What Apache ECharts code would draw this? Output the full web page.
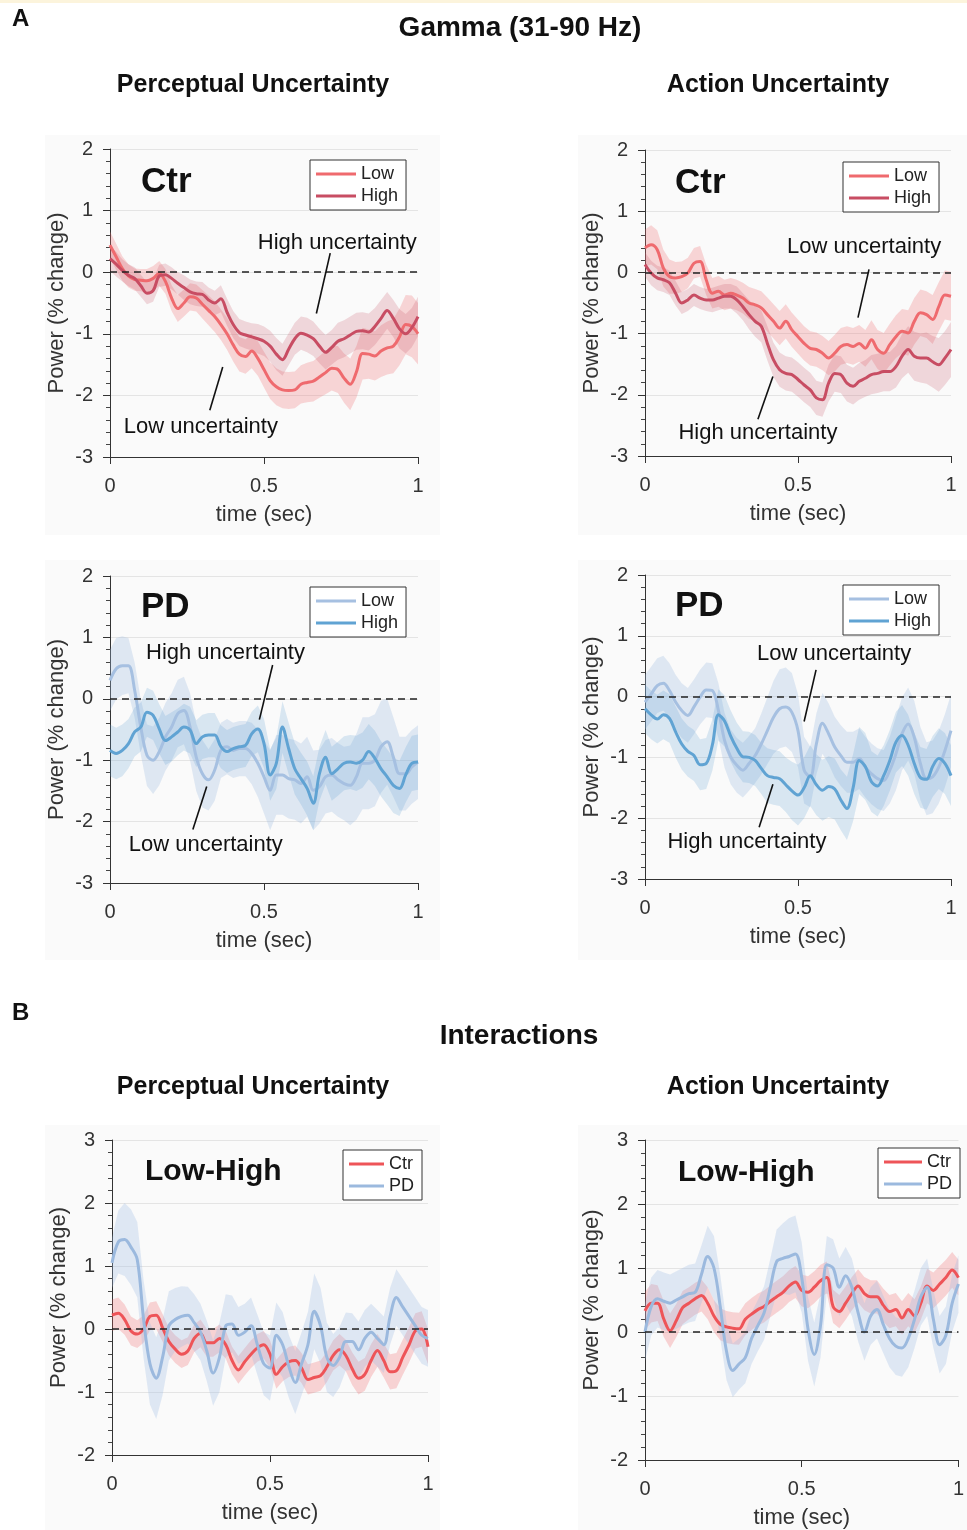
<!DOCTYPE html>
<html><head><meta charset="utf-8">
<script src="https://cdn.jsdelivr.net/npm/echarts@6/dist/echarts.min.js"></script>
<style>html,body{margin:0;padding:0;background:#fff}#c{width:967px;height:1530px}</style>
</head><body><div id="c"></div>
<script>
// ---- time axis (sec) ----
const time = [0,0.02,0.04,0.06,0.08,0.1,0.12,0.14,0.16,0.18,0.2,0.22,0.24,0.26,0.28,0.3,0.32,0.34,0.36,0.38,0.4,0.42,0.44,0.46,0.48,0.5,0.52,0.54,0.56,0.58,0.6,0.62,0.64,0.66,0.68,0.7,0.72,0.74,0.76,0.78,0.8,0.82,0.84,0.86,0.88,0.9,0.92,0.94,0.96,0.98,1];

// ---- A: Ctr, Perceptual uncertainty ----
const ctrPercLow = [0.44,0.25,0.06,-0.06,-0.12,-0.13,-0.14,-0.10,-0.02,-0.15,-0.42,-0.59,-0.50,-0.40,-0.42,-0.52,-0.62,-0.72,-0.85,-1.00,-1.18,-1.33,-1.37,-1.28,-1.40,-1.58,-1.76,-1.86,-1.91,-1.92,-1.91,-1.82,-1.79,-1.77,-1.70,-1.63,-1.56,-1.58,-1.72,-1.82,-1.62,-1.32,-1.33,-1.36,-1.28,-1.23,-1.20,-1.05,-0.85,-0.88,-1.00];
const ctrPercLowSem = [0.22,0.21,0.2,0.19,0.18,0.18,0.19,0.2,0.2,0.2,0.21,0.22,0.22,0.22,0.22,0.23,0.24,0.25,0.25,0.26,0.27,0.28,0.28,0.28,0.28,0.29,0.3,0.3,0.3,0.3,0.3,0.31,0.32,0.33,0.34,0.35,0.36,0.38,0.4,0.42,0.42,0.42,0.4,0.4,0.42,0.43,0.44,0.46,0.48,0.5,0.5];
const ctrPercHigh = [0.22,0.13,0.03,-0.05,-0.10,-0.22,-0.34,-0.30,-0.06,-0.04,-0.10,-0.18,-0.25,-0.32,-0.35,-0.36,-0.45,-0.50,-0.43,-0.65,-0.85,-0.98,-1.02,-1.05,-1.08,-1.12,-1.20,-1.33,-1.42,-1.25,-1.08,-0.99,-1.02,-1.08,-1.20,-1.30,-1.22,-1.12,-1.08,-1.02,-0.96,-0.95,-0.97,-0.88,-0.75,-0.62,-0.75,-0.92,-1.00,-0.90,-0.72];
const ctrPercHighSem = [0.2,0.2,0.18,0.18,0.18,0.18,0.18,0.18,0.18,0.18,0.18,0.18,0.2,0.2,0.2,0.2,0.2,0.2,0.22,0.22,0.22,0.22,0.22,0.22,0.24,0.24,0.25,0.26,0.26,0.26,0.26,0.27,0.28,0.28,0.28,0.28,0.28,0.3,0.3,0.3,0.3,0.3,0.3,0.3,0.3,0.3,0.3,0.32,0.32,0.32,0.32];

// ---- A: Ctr, Action uncertainty ----
const ctrActLow = [0.40,0.45,0.37,0.07,-0.07,-0.09,-0.07,-0.01,0.15,0.18,-0.12,-0.34,-0.31,-0.37,-0.34,-0.37,-0.42,-0.50,-0.53,-0.58,-0.69,-0.80,-0.91,-0.80,-0.94,-1.05,-1.16,-1.24,-1.26,-1.32,-1.40,-1.32,-1.21,-1.18,-1.21,-1.16,-1.24,-1.10,-1.26,-1.32,-1.18,-1.05,-0.96,-0.99,-0.80,-0.66,-0.69,-0.77,-0.56,-0.37,-0.39];
const ctrActLowSem = [0.3,0.32,0.32,0.3,0.28,0.26,0.25,0.25,0.25,0.25,0.25,0.25,0.25,0.25,0.25,0.25,0.25,0.26,0.26,0.27,0.28,0.28,0.28,0.28,0.28,0.28,0.28,0.28,0.28,0.28,0.28,0.3,0.3,0.3,0.3,0.3,0.3,0.32,0.32,0.33,0.34,0.35,0.36,0.37,0.38,0.38,0.38,0.4,0.4,0.4,0.4];
const ctrActHigh = [0.13,-0.01,-0.09,-0.12,-0.17,-0.34,-0.50,-0.45,-0.37,-0.42,-0.45,-0.45,-0.42,-0.39,-0.39,-0.45,-0.56,-0.69,-0.80,-0.88,-1.16,-1.43,-1.59,-1.65,-1.67,-1.75,-1.84,-1.92,-2.05,-2.08,-1.81,-1.65,-1.67,-1.81,-1.86,-1.78,-1.73,-1.67,-1.65,-1.62,-1.62,-1.54,-1.37,-1.26,-1.37,-1.40,-1.40,-1.46,-1.51,-1.40,-1.26];
const ctrActHighSem = [0.2,0.2,0.2,0.2,0.2,0.2,0.18,0.18,0.18,0.18,0.18,0.2,0.2,0.2,0.2,0.22,0.22,0.24,0.25,0.26,0.28,0.28,0.28,0.28,0.28,0.28,0.28,0.28,0.28,0.28,0.3,0.3,0.3,0.3,0.3,0.3,0.3,0.32,0.32,0.32,0.32,0.34,0.36,0.38,0.4,0.4,0.42,0.42,0.44,0.44,0.45];

// ---- A: PD, Perceptual uncertainty ----
const pdPercLow = [0.30,0.49,0.54,0.54,0.14,-0.46,-0.92,-1.00,-0.86,-0.62,-0.46,-0.24,-0.19,-0.46,-0.95,-1.22,-1.32,-1.16,-0.84,-0.78,-0.84,-0.81,-0.81,-0.89,-1.05,-1.27,-1.49,-1.24,-1.24,-1.30,-1.32,-1.38,-1.27,-1.49,-1.43,-1.27,-1.24,-1.32,-1.38,-1.41,-1.27,-1.05,-1.05,-1.00,-0.78,-0.70,-0.95,-1.22,-1.22,-1.11,-1.03];
const pdPercLowSem = [0.5,0.5,0.48,0.45,0.45,0.45,0.5,0.55,0.55,0.55,0.55,0.55,0.55,0.55,0.55,0.55,0.5,0.5,0.45,0.45,0.45,0.45,0.45,0.5,0.55,0.6,0.65,0.65,0.65,0.65,0.65,0.65,0.65,0.65,0.6,0.6,0.6,0.6,0.6,0.65,0.7,0.75,0.75,0.75,0.75,0.7,0.65,0.6,0.6,0.6,0.6];
const pdPercHigh = [-0.84,-0.89,-0.84,-0.73,-0.54,-0.46,-0.22,-0.27,-0.49,-0.68,-0.62,-0.54,-0.46,-0.51,-0.73,-0.62,-0.59,-0.59,-0.78,-0.86,-0.81,-0.78,-0.76,-0.57,-0.49,-0.73,-1.24,-1.05,-0.46,-0.81,-1.14,-1.30,-1.46,-1.70,-1.22,-0.95,-1.22,-1.14,-1.05,-1.03,-1.05,-1.00,-0.86,-0.97,-1.14,-1.27,-1.41,-1.46,-1.24,-1.05,-1.03];
const pdPercHighSem = [0.42,0.42,0.42,0.4,0.4,0.4,0.4,0.4,0.4,0.4,0.4,0.38,0.38,0.38,0.38,0.36,0.36,0.36,0.35,0.35,0.35,0.35,0.35,0.36,0.38,0.4,0.42,0.42,0.42,0.42,0.42,0.42,0.44,0.44,0.44,0.44,0.44,0.44,0.44,0.44,0.45,0.45,0.45,0.45,0.45,0.45,0.45,0.45,0.45,0.45,0.45];

// ---- A: PD, Action uncertainty ----
const pdActLow = [-0.09,0.04,0.18,0.22,0.10,-0.09,-0.23,-0.31,-0.17,-0.01,0.11,0.10,-0.23,-0.72,-0.99,-1.13,-1.21,-1.10,-0.97,-0.78,-0.56,-0.34,-0.20,-0.17,-0.26,-0.56,-1.21,-1.32,-0.78,-0.44,-0.61,-0.83,-0.97,-1.08,-1.08,-1.02,-1.16,-1.27,-1.35,-1.38,-1.21,-0.94,-0.61,-0.45,-0.67,-1.10,-1.35,-1.32,-1.16,-0.89,-0.56];
const pdActLowSem = [0.45,0.45,0.45,0.45,0.45,0.45,0.45,0.45,0.45,0.45,0.45,0.45,0.45,0.45,0.45,0.45,0.45,0.45,0.45,0.5,0.55,0.6,0.65,0.65,0.65,0.6,0.55,0.5,0.5,0.5,0.5,0.5,0.5,0.5,0.5,0.5,0.5,0.5,0.5,0.5,0.55,0.6,0.6,0.6,0.6,0.6,0.6,0.6,0.6,0.6,0.6];
const pdActHigh = [-0.20,-0.30,-0.37,-0.30,-0.36,-0.58,-0.78,-0.90,-0.97,-1.12,-1.10,-0.80,-0.30,-0.40,-0.65,-0.85,-0.99,-1.00,-1.05,-1.18,-1.30,-1.33,-1.35,-1.45,-1.55,-1.62,-1.50,-1.30,-1.45,-1.54,-1.48,-1.52,-1.70,-1.84,-1.50,-1.05,-1.15,-1.40,-1.47,-1.30,-1.05,-0.75,-0.64,-0.80,-1.10,-1.33,-1.36,-1.15,-1.02,-1.10,-1.30];
const pdActHighSem = [0.4,0.4,0.4,0.4,0.4,0.42,0.42,0.42,0.42,0.42,0.42,0.42,0.42,0.42,0.42,0.42,0.42,0.42,0.42,0.42,0.45,0.45,0.45,0.45,0.48,0.5,0.5,0.5,0.5,0.5,0.5,0.5,0.5,0.52,0.55,0.55,0.55,0.5,0.5,0.5,0.5,0.5,0.5,0.5,0.5,0.5,0.5,0.5,0.5,0.5,0.5];

// ---- B: Interactions (Low-High) ----
const intPercCtr = [0.22,0.25,0.15,-0.03,-0.08,0.00,0.20,0.22,0.02,-0.20,-0.32,-0.40,-0.35,-0.15,-0.07,-0.22,-0.22,-0.15,-0.25,-0.50,-0.65,-0.52,-0.40,-0.30,-0.25,-0.40,-0.72,-0.60,-0.52,-0.50,-0.62,-0.80,-0.77,-0.74,-0.60,-0.42,-0.33,-0.42,-0.63,-0.78,-0.72,-0.50,-0.34,-0.50,-0.68,-0.66,-0.45,-0.25,-0.03,0.00,-0.28];
const intPercCtrSem = [0.25,0.25,0.24,0.23,0.22,0.22,0.22,0.22,0.22,0.22,0.22,0.22,0.22,0.22,0.22,0.22,0.22,0.22,0.22,0.22,0.22,0.22,0.22,0.22,0.22,0.22,0.23,0.23,0.24,0.24,0.24,0.24,0.24,0.24,0.24,0.24,0.25,0.25,0.26,0.26,0.26,0.26,0.26,0.27,0.28,0.28,0.28,0.28,0.28,0.28,0.28];
const intPercPd = [1.05,1.38,1.42,1.30,1.10,0.15,-0.55,-0.78,-0.45,0.05,0.15,0.20,0.22,0.10,-0.05,-0.35,-0.70,-0.45,0.05,0.08,-0.10,-0.05,0.05,-0.25,-0.55,-0.62,-0.10,-0.25,-0.60,-0.85,-0.55,-0.25,0.28,0.05,-0.45,-0.58,-0.45,-0.20,-0.20,-0.33,-0.15,-0.05,-0.15,-0.25,0.20,0.50,0.35,0.20,0.05,-0.10,-0.15];
const intPercPdSem = [0.4,0.5,0.58,0.6,0.6,0.62,0.65,0.65,0.6,0.55,0.5,0.48,0.45,0.45,0.45,0.48,0.52,0.55,0.5,0.45,0.45,0.45,0.45,0.48,0.5,0.52,0.52,0.52,0.5,0.5,0.5,0.52,0.6,0.6,0.55,0.5,0.48,0.46,0.45,0.45,0.45,0.45,0.45,0.45,0.45,0.45,0.45,0.45,0.45,0.45,0.45];
const intActCtr = [0.33,0.45,0.45,0.20,0.02,0.18,0.38,0.45,0.52,0.57,0.45,0.25,0.12,0.08,0.06,0.05,0.20,0.28,0.35,0.40,0.48,0.55,0.62,0.72,0.78,0.65,0.62,0.70,0.80,0.85,0.40,0.32,0.45,0.60,0.72,0.60,0.55,0.55,0.42,0.32,0.35,0.22,0.35,0.25,0.45,0.72,0.65,0.75,0.85,0.97,0.85];
const intActCtrSem = [0.3,0.3,0.28,0.28,0.27,0.26,0.26,0.25,0.25,0.25,0.25,0.25,0.25,0.25,0.25,0.25,0.25,0.25,0.25,0.25,0.25,0.25,0.25,0.25,0.25,0.25,0.25,0.25,0.25,0.25,0.26,0.26,0.26,0.26,0.26,0.26,0.26,0.26,0.26,0.26,0.26,0.26,0.26,0.26,0.26,0.27,0.28,0.28,0.28,0.28,0.28];
const intActPd = [0.00,0.40,0.52,0.48,0.45,0.50,0.55,0.60,0.62,0.90,1.18,1.00,0.40,-0.30,-0.60,-0.50,-0.40,-0.10,0.10,0.30,0.70,1.10,1.15,1.18,1.22,0.85,0.05,-0.35,0.10,1.05,1.00,0.70,0.88,0.70,0.30,0.00,0.25,0.35,0.12,-0.10,-0.22,-0.25,-0.10,0.20,0.55,0.70,0.20,-0.20,-0.05,0.45,0.75];
const intActPdSem = [0.45,0.45,0.45,0.45,0.45,0.45,0.45,0.45,0.45,0.45,0.48,0.5,0.5,0.45,0.42,0.4,0.4,0.4,0.4,0.42,0.45,0.5,0.55,0.6,0.6,0.55,0.5,0.5,0.5,0.45,0.45,0.45,0.45,0.45,0.45,0.45,0.45,0.45,0.45,0.45,0.45,0.45,0.45,0.45,0.45,0.45,0.45,0.45,0.45,0.45,0.45];

// ---- tick labels ----
const xTicks = ['0','0.5','1'];

// ---- styles ----
const FONT = '"Liberation Sans", Arial, Helvetica, sans-serif';
const C = {
  ctrLow:'#ef6a6e', ctrLowBand:'rgba(240,110,115,0.27)',
  ctrHigh:'#c84d63', ctrHighBand:'rgba(200,85,105,0.22)',
  pdLow:'#a6c0e1', pdLowBand:'rgba(160,190,225,0.30)',
  pdHigh:'#60a3d3', pdHighBand:'rgba(95,160,210,0.22)',
  ctr:'#ee5458', ctrBand:'rgba(240,95,100,0.26)',
  pd:'#9bb9de', pdBand:'rgba(160,190,228,0.30)'
};
const SM = 0.35;

const panels = [
  {grid:{left:110, top:149, width:308, height:308}, ymin:-3, ymax:2,
   series:[{name:'Low', mean:ctrPercLow, sem:ctrPercLowSem, color:C.ctrLow, band:C.ctrLowBand},
           {name:'High', mean:ctrPercHigh, sem:ctrPercHighSem, color:C.ctrHigh, band:C.ctrHighBand}],
   legend:{left:310, top:160, w:40}, label:{text:'Ctr', x:141, y:182}},
  {grid:{left:645, top:150, width:306, height:306}, ymin:-3, ymax:2,
   series:[{name:'Low', mean:ctrActLow, sem:ctrActLowSem, color:C.ctrLow, band:C.ctrLowBand},
           {name:'High', mean:ctrActHigh, sem:ctrActHighSem, color:C.ctrHigh, band:C.ctrHighBand}],
   legend:{left:843, top:162, w:40}, label:{text:'Ctr', x:675, y:183}},
  {grid:{left:110, top:576, width:308, height:307}, ymin:-3, ymax:2,
   series:[{name:'Low', mean:pdPercLow, sem:pdPercLowSem, color:C.pdLow, band:C.pdLowBand},
           {name:'High', mean:pdPercHigh, sem:pdPercHighSem, color:C.pdHigh, band:C.pdHighBand}],
   legend:{left:310, top:587, w:40}, label:{text:'PD', x:141, y:607}},
  {grid:{left:645, top:575, width:306, height:304}, ymin:-3, ymax:2,
   series:[{name:'Low', mean:pdActLow, sem:pdActLowSem, color:C.pdLow, band:C.pdLowBand},
           {name:'High', mean:pdActHigh, sem:pdActHighSem, color:C.pdHigh, band:C.pdHighBand}],
   legend:{left:843, top:585, w:40}, label:{text:'PD', x:675, y:606}},
  {grid:{left:112, top:1140, width:316, height:315}, ymin:-2, ymax:3,
   series:[{name:'Ctr', mean:intPercCtr, sem:intPercCtrSem, color:C.ctr, band:C.ctrBand},
           {name:'PD', mean:intPercPd, sem:intPercPdSem, color:C.pd, band:C.pdBand}],
   legend:{left:343, top:1150, w:35}, label:{text:'Low-High', x:145, y:1172}},
  {grid:{left:645, top:1140, width:320, height:320}, ymin:-2, ymax:3,
   series:[{name:'Ctr', mean:intActCtr, sem:intActCtrSem, color:C.ctr, band:C.ctrBand},
           {name:'PD', mean:intActPd, sem:intActPdSem, color:C.pd, band:C.pdBand}],
   legend:{left:878, top:1148, w:38}, label:{text:'Low-High', x:678, y:1173}}
];

function bandSeries(i, s){
  const data = time.map((t,k)=>[t, s.mean[k]-s.sem[k], s.mean[k]+s.sem[k]]);
  return {type:'custom', xAxisIndex:i, yAxisIndex:i, silent:true, z:1, clip:true,
    encode:{x:0, y:[1,2]}, data,
    renderItem:(params, api)=>{
      if (params.dataIndex !== 0) return null;
      const up = data.map(d=>api.coord([d[0], d[2]]));
      const lo = data.map(d=>api.coord([d[0], d[1]])).reverse();
      return {type:'polygon', shape:{points:up.concat(lo)}, style:{fill:s.band, stroke:null}};
    }};
}

const grids=[], xAxes=[], yAxes=[], series=[], legends=[];
panels.forEach((p,i)=>{
  grids.push(Object.assign({containLabel:false}, p.grid));
  xAxes.push({type:'value', gridIndex:i, min:0, max:1, interval:0.5,
    axisLine:{show:true, onZero:false, lineStyle:{color:'#333', width:1}},
    axisTick:{show:true, length:7, lineStyle:{color:'#333'}},
    axisLabel:{fontSize:20, color:'#333', margin:19, fontFamily:FONT,
      formatter:v=>xTicks[Math.round(v*2)]},
    splitLine:{show:false},
    name:'time (sec)', nameLocation:'middle', nameGap:47,
    nameTextStyle:{fontSize:22, color:'#333', fontFamily:FONT}});
  yAxes.push({type:'value', gridIndex:i, min:p.ymin, max:p.ymax, interval:1,
    axisLine:{show:true, onZero:false, lineStyle:{color:'#333', width:1}},
    axisTick:{show:true, length:7, lineStyle:{color:'#333'}},
    minorTick:{show:true, splitNumber:5, length:4, lineStyle:{color:'#444'}},
    axisLabel:{fontSize:20, color:'#333', margin:17, fontFamily:FONT},
    splitLine:{show:true, lineStyle:{color:'#e4e4e4', width:1}},
    name:'Power (% change)', nameLocation:'middle', nameGap:42,
    nameTextStyle:{fontSize:22, color:'#333', fontFamily:FONT}});
  p.series.forEach(s=>series.push(bandSeries(i, s)));
  legends.push({left:p.legend.left, top:p.legend.top, orient:'vertical', icon:'rect',
    itemWidth:p.legend.w, itemHeight:3, itemGap:4, padding:[5,8,5,6],
    borderColor:'#333', borderWidth:1, backgroundColor:'#fff', selectedMode:false,
    textStyle:{fontSize:18, color:'#222', fontFamily:FONT},
    data:p.series.map(s=>({name:s.name, itemStyle:{color:s.color}}))});
});
panels.forEach((p,i)=>{
  p.series.forEach((s,j)=>{
    const ser = {type:'line', name:s.name, xAxisIndex:i, yAxisIndex:i,
      data:time.map((t,k)=>[t, s.mean[k]]), symbol:'none', smooth:SM,
      lineStyle:{color:s.color, width:3}, itemStyle:{color:s.color}, z:3, silent:true};
    if (j===0) ser.markLine = {silent:true, symbol:'none', label:{show:false},
      lineStyle:{type:[7,5], color:'#222', width:1.6}, data:[{yAxis:0}], animation:false};
    series.push(ser);
  });
});

const chart = echarts.init(document.getElementById('c'), null, {renderer:'canvas'});
chart.setOption({
  animation:false, backgroundColor:'#ffffff',
  textStyle:{fontFamily:FONT},
  grid:grids, xAxis:xAxes, yAxis:yAxes, legend:legends, series
});

// ---- annotations (in data coordinates of each panel) ----
const annotations = [
  {g:0, text:'High uncertainty', at:[0.738,0.47], line:[[0.715,0.31],[0.670,-0.67]]},
  {g:0, text:'Low uncertainty', at:[0.295,-2.52], line:[[0.366,-1.54],[0.324,-2.24]]},
  {g:1, text:'Low uncertainty', at:[0.716,0.42], line:[[0.732,0.05],[0.696,-0.74]]},
  {g:1, text:'High uncertainty', at:[0.369,-2.63], line:[[0.418,-1.70],[0.369,-2.40]]},
  {g:2, text:'High uncertainty', at:[0.375,0.75], line:[[0.528,0.55],[0.485,-0.34]]},
  {g:2, text:'Low uncertainty', at:[0.311,-2.38], line:[[0.314,-1.43],[0.269,-2.13]]},
  {g:3, text:'Low uncertainty', at:[0.618,0.70], line:[[0.559,0.44],[0.520,-0.41]]},
  {g:3, text:'High uncertainty', at:[0.333,-2.39], line:[[0.418,-1.44],[0.373,-2.15]]}
];
const titles = [
  {text:'A', x:12, y:19, size:24, align:'left'},
  {text:'Gamma (31-90 Hz)', x:520, y:28, size:28, align:'center'},
  {text:'Perceptual Uncertainty', x:253, y:85, size:25, align:'center'},
  {text:'Action Uncertainty', x:778, y:85, size:25, align:'center'},
  {text:'B', x:12, y:1013, size:24, align:'left'},
  {text:'Interactions', x:519, y:1036, size:28, align:'center'},
  {text:'Perceptual Uncertainty', x:253, y:1087, size:25, align:'center'},
  {text:'Action Uncertainty', x:778, y:1087, size:25, align:'center'}
];
const bgRects = [[45,135,395,400],[578,135,389,400],[45,560,395,400],[578,560,389,400],[45,1125,395,405],[578,1125,389,405]];

const graphics = [];
graphics.push({type:'rect', shape:{x:0,y:0,width:967,height:3}, style:{fill:'#fcf4dc'}, z:-20, silent:true});
bgRects.forEach(r=>graphics.push({type:'rect', shape:{x:r[0],y:r[1],width:r[2],height:r[3]}, style:{fill:'#fafafa'}, z:-10, silent:true}));
function txt(text, x, y, size, weight, align){
  return {type:'text', x, y, z:100, silent:true,
    style:{text, fontSize:size, fontWeight:weight, fontFamily:FONT, fill:'#111',
      textAlign:align, textVerticalAlign:'middle', align:align, verticalAlign:'middle'}};
}
titles.forEach(t=>graphics.push(txt(t.text, t.x, t.y, t.size, 'bold', t.align)));
panels.forEach(p=>{
  const big = p.label.text==='Low-High' ? 30 : 35;
  graphics.push(txt(p.label.text, p.label.x, p.label.y, big, 'bold', 'left'));
});
annotations.forEach(a=>{
  const c = chart.convertToPixel({gridIndex:a.g}, a.at);
  graphics.push(txt(a.text, c[0], c[1], 22, 'normal', 'center'));
  const p1 = chart.convertToPixel({gridIndex:a.g}, a.line[0]);
  const p2 = chart.convertToPixel({gridIndex:a.g}, a.line[1]);
  graphics.push({type:'line', z:100, silent:true, shape:{x1:p1[0],y1:p1[1],x2:p2[0],y2:p2[1]},
    style:{stroke:'#111', lineWidth:1.6}});
});
chart.setOption({graphic:graphics});
</script>
</body></html>
